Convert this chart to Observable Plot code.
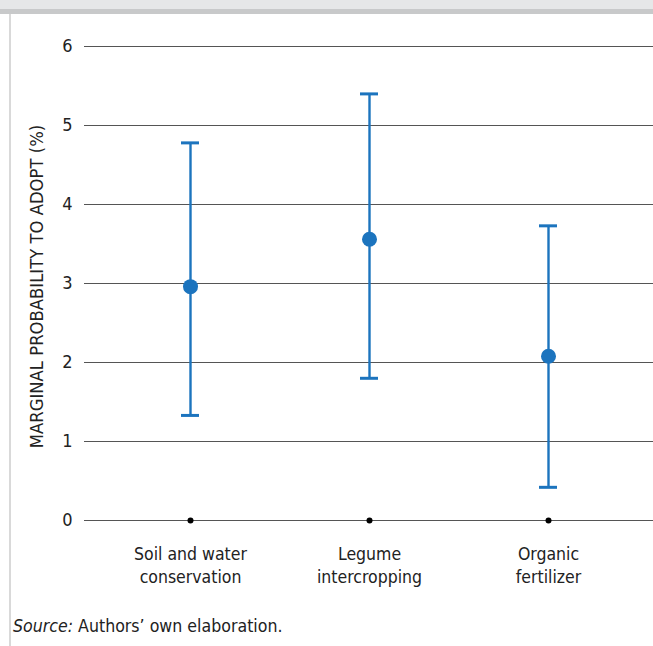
<!DOCTYPE html>
<html>
<head>
<meta charset="utf-8">
<script src="https://cdn.jsdelivr.net/npm/d3@7"></script>
<script src="https://cdn.jsdelivr.net/npm/@observablehq/plot@0.6"></script>
<style>
  html, body { margin: 0; padding: 0; background: #fff; }
  body { width: 653px; height: 646px; overflow: hidden; font-family: "DejaVu Sans Condensed", "DejaVu Sans", sans-serif; }
  #band1 { height: 9px; background: #e6e7e8; }
  #band2 { height: 5px; background: #c8c9ca; }
  #wrap { margin-left: 9px; border-left: 2px solid #d9d9d9; height: 632px; }
  #chart svg { display: block; }
  #caption { font-size: 17.6px; line-height: 20px; color: #222; padding-left: 2px; margin-top: 12px; }
</style>
</head>
<body>
<div id="band1"></div>
<div id="band2"></div>
<div id="wrap">
  <div id="chart"></div>
  <div id="caption"><i>Source:</i> Authors’ own elaboration.</div>
</div>
<script>
const categories = ["Soil and water conservation", "Legume intercropping", "Organic fertilizer"];
const tickLabels = ["Soil and water\nconservation", "Legume\nintercropping", "Organic\nfertilizer"];
const estimates = [2.96, 3.56, 2.08];
const lowerBounds = [1.33, 1.80, 0.42];
const upperBounds = [4.78, 5.40, 3.73];
const yTicks = [0, 1, 2, 3, 4, 5, 6];
const yLabel = "MARGINAL PROBABILITY TO ADOPT (%)";

const data = categories.map((c, i) => ({cat: c, est: estimates[i], lo: lowerBounds[i], hi: upperBounds[i]}));
const labelOf = new Map(categories.map((c, i) => [c, tickLabels[i]]));

const blue = "#1c74be";
const font = "DejaVu Sans Condensed, DejaVu Sans, sans-serif";

const chart = Plot.plot({
  width: 642,
  height: 590,
  marginTop: 32,
  marginBottom: 84,
  marginLeft: 73,
  marginRight: 0,
  style: {fontFamily: font, fontSize: "17.5px", color: "#222", background: "transparent"},
  x: {type: "band", domain: categories, paddingInner: 0.9, paddingOuter: 0.538},
  y: {domain: [0, 6]},
  marks: [
    Plot.gridY(yTicks, {stroke: "#555", strokeOpacity: 1, strokeWidth: 1.2}),
    Plot.axisY(yTicks, {tickSize: 0, tickPadding: 12, fontSize: 18, label: null, tickFormat: d => String(d)}),
    Plot.axisX({tickSize: 0, tickPadding: 23, fontSize: 17.5, label: null, lineHeight: 1.32, tickFormat: d => labelOf.get(d)}),
    Plot.text([yLabel], {text: d => d, frameAnchor: "left", textAnchor: "middle", lineAnchor: "middle", rotate: -90, dx: -47, dy: 3, fontSize: 18.3, fill: "#222"}),
    Plot.dot(categories, {x: d => d, frameAnchor: "bottom", r: 3, fill: "#000", stroke: "none"}),
    Plot.ruleX(data, {x: "cat", y1: "lo", y2: "hi", stroke: blue, strokeWidth: 2.4}),
    Plot.tickY(data, {x: "cat", y: "lo", stroke: blue, strokeWidth: 3}),
    Plot.tickY(data, {x: "cat", y: "hi", stroke: blue, strokeWidth: 3}),
    Plot.dot(data, {x: "cat", y: "est", r: 7.5, fill: blue, stroke: "none"})
  ]
});
document.getElementById("chart").appendChild(chart);
</script>
</body>
</html>
